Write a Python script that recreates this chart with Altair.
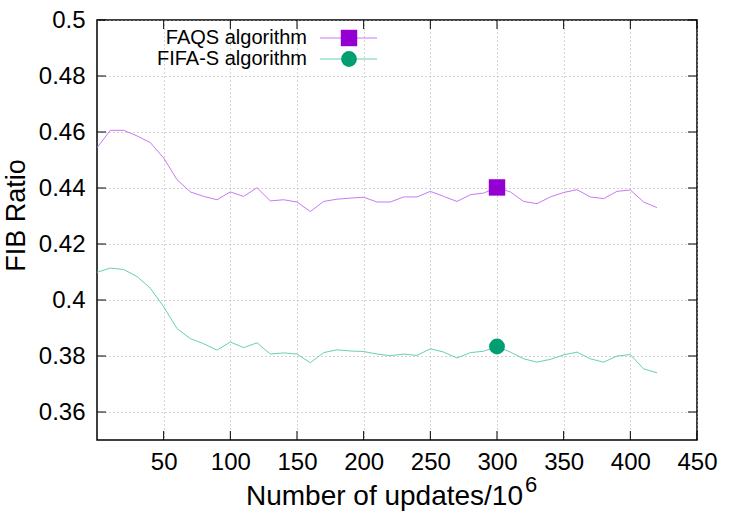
import altair as alt
import pandas as pd

# ---- data ----
updates = [0, 10, 20, 30, 40, 50, 60, 70, 80, 90, 100, 110, 120, 130, 140, 150, 160, 170,
           180, 190, 200, 210, 220, 230, 240, 250, 260, 270, 280, 290, 300, 310, 320, 330,
           340, 350, 360, 370, 380, 390, 400, 410, 420]
faqs = [0.4544, 0.4606, 0.4606, 0.4586, 0.4562, 0.4507, 0.4430, 0.4386, 0.4370, 0.4358,
        0.4386, 0.4370, 0.4401, 0.4354, 0.4358, 0.4350, 0.4316, 0.4352, 0.4360, 0.4364,
        0.4367, 0.4350, 0.4350, 0.4368, 0.4368, 0.4388, 0.4370, 0.4352, 0.4376, 0.4382,
        0.4402, 0.4386, 0.4352, 0.4344, 0.4368, 0.4384, 0.4394, 0.4368, 0.4362, 0.4388,
        0.4393, 0.4350, 0.4330]
fifas = [0.4099, 0.4114, 0.4109, 0.4084, 0.4042, 0.3976, 0.3898, 0.3862, 0.3844, 0.3821,
         0.3850, 0.3830, 0.3847, 0.3807, 0.3811, 0.3807, 0.3776, 0.3812, 0.3822, 0.3818,
         0.3816, 0.3807, 0.3801, 0.3807, 0.3802, 0.3826, 0.3814, 0.3793, 0.3812, 0.3817,
         0.3834, 0.3814, 0.3790, 0.3778, 0.3788, 0.3804, 0.3814, 0.3790, 0.3778, 0.3800,
         0.3805, 0.3754, 0.3740]
series_names = ["FAQS algorithm", "FIFA-S algorithm"]
marker_x = 300
x_ticks = [50, 100, 150, 200, 250, 300, 350, 400, 450]
y_ticks = [0.36, 0.38, 0.40, 0.42, 0.44, 0.46, 0.48, 0.50]
x_title_main = "Number of updates/10"
x_title_sup = "6"

FONT = "Liberation Sans"
LINE_COLORS = ["#c57af2", "#66d1ad"]
MARK_COLORS = ["#9400d3", "#009e73"]
W, H = 600, 420

df = pd.DataFrame({
    "x": updates * 2,
    "y": faqs + fifas,
    "series": [series_names[0]] * len(updates) + [series_names[1]] * len(updates),
})

xs = alt.Scale(domain=[0, 450], nice=False, zero=False)
ys = alt.Scale(domain=[0.35, 0.5], nice=False, zero=False)

x_enc = alt.X("x:Q", scale=xs, title=None,
              axis=alt.Axis(values=x_ticks, labelFontSize=24, labelFont=FONT, labelColor="black",
                            labelPadding=10, ticks=False, tickSize=0, domain=False, grid=True,
                            gridDash=[1, 3], gridColor="#a8a8a8", gridWidth=1,
                            labelFlush=False))
y_enc = alt.Y("y:Q", scale=ys, title="FIB Ratio",
              axis=alt.Axis(values=y_ticks, format=".2~f", labelFontSize=24, labelFont=FONT,
                            labelColor="black", titleFont=FONT, titleFontSize=27,
                            titleFontWeight="normal", titleColor="black", titlePadding=8,
                            labelPadding=12, ticks=False, tickSize=0, domain=False, grid=True,
                            gridDash=[1, 3], gridColor="#a8a8a8", gridWidth=1,
                            labelFlush=False, titleY=195))

color_line = alt.Color("series:N", scale=alt.Scale(domain=series_names, range=LINE_COLORS),
                       legend=None)

lines = alt.Chart(df).mark_line(strokeWidth=1, clip=True).encode(
    x=x_enc, y=y_enc, color=color_line, detail="series:N")

mk = alt.Chart(df).transform_filter(alt.datum.x == marker_x)
mark_sq = mk.transform_filter(alt.datum.series == series_names[0]).mark_point(
    shape="square", filled=True, size=270, opacity=1, color=MARK_COLORS[0]).encode(
    x=alt.X("x:Q", scale=xs), y=alt.Y("y:Q", scale=ys))
mark_ci = mk.transform_filter(alt.datum.series == series_names[1]).mark_point(
    shape="circle", filled=True, size=250, opacity=1, color=MARK_COLORS[1]).encode(
    x=alt.X("x:Q", scale=xs), y=alt.Y("y:Q", scale=ys))

# inward ticks on all four sides (gnuplot style)
ytick_df = pd.DataFrame({"t": y_ticks})
xtick_df = pd.DataFrame({"t": x_ticks})
tick_left = alt.Chart(ytick_df).mark_rule(color="black", strokeWidth=1).encode(
    y=alt.Y("t:Q", scale=ys), x=alt.value(0), x2=alt.value(9))
tick_right = alt.Chart(ytick_df).mark_rule(color="black", strokeWidth=1).encode(
    y=alt.Y("t:Q", scale=ys), x=alt.value(W - 9), x2=alt.value(W))
tick_bottom = alt.Chart(xtick_df).mark_rule(color="black", strokeWidth=1).encode(
    x=alt.X("t:Q", scale=xs), y=alt.value(H - 9), y2=alt.value(H))
tick_top = alt.Chart(xtick_df).mark_rule(color="black", strokeWidth=1).encode(
    x=alt.X("t:Q", scale=xs), y=alt.value(0), y2=alt.value(9))

# x-axis title with a real superscript
title_src = alt.Chart(pd.DataFrame({"main": [x_title_main], "sup": [x_title_sup]}))
xt_main = title_src.mark_text(align="right", baseline="alphabetic", font=FONT, fontSize=28,
                              color="black").encode(
    text="main:N", x=alt.value(426), y=alt.value(485))
xt_sup = title_src.mark_text(align="left", baseline="alphabetic", font=FONT, fontSize=22,
                             color="black").encode(
    text="sup:N", x=alt.value(428), y=alt.value(472))

# manual legend (line sample + marker)
leg_layers = []
shapes = ["square", "circle"]
sizes = [270, 250]
row_y = [18, 39]
for i, name in enumerate(series_names):
    src = alt.Chart(pd.DataFrame({"label": [name]}))
    leg_layers.append(src.mark_text(align="right", baseline="middle", font=FONT,
                                    fontSize=20, color="black").encode(
        text="label:N", x=alt.value(210), y=alt.value(row_y[i])))
    leg_layers.append(src.mark_rule(color=LINE_COLORS[i], strokeWidth=1).encode(
        x=alt.value(223), x2=alt.value(280), y=alt.value(row_y[i])))
    leg_layers.append(src.mark_point(shape=shapes[i], filled=True, size=sizes[i], opacity=1,
                                     color=MARK_COLORS[i]).encode(
        x=alt.value(252), y=alt.value(row_y[i])))

chart = alt.layer(
    lines, tick_left, tick_right, tick_bottom, tick_top, mark_sq, mark_ci,
    xt_main, xt_sup, *leg_layers
).properties(
    width=W, height=H,
    autosize=alt.AutoSizeParams(type="none"),
    padding={"left": 97, "top": 20, "right": 53, "bottom": 85},
    background="white",
).configure_view(stroke="black", strokeWidth=1.5)

chart.save("out.html", embed_options={"renderer": "svg", "actions": False})
